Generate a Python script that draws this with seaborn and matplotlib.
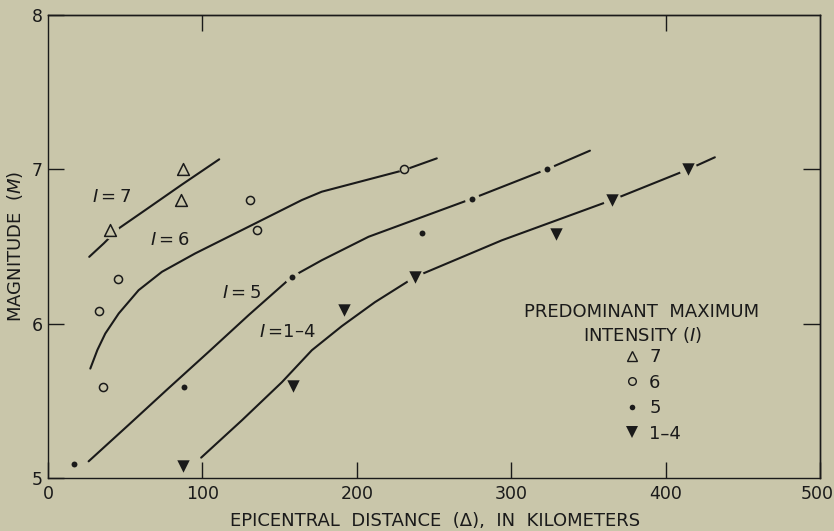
import matplotlib
matplotlib.use("Agg")
import matplotlib.pyplot as plt
from matplotlib.lines import Line2D
from matplotlib.transforms import ScaledTranslation
import seaborn as sns

# ---------------- data ----------------
# Observed points, grouped by predominant maximum intensity
i7_dist = [87.2, 86.1, 40.3]
i7_mag = [7.00, 6.80, 6.61]

i6_dist = [131.0, 135.5, 45.3, 33.2, 35.4, 230.6]
i6_mag = [6.80, 6.61, 6.29, 6.08, 5.59, 7.00]

i5_dist = [16.6, 87.8, 157.9, 242.1, 274.4, 323.0]
i5_mag = [5.09, 5.59, 6.30, 6.59, 6.81, 7.00]

i14_dist = [87.4, 159.0, 191.4, 237.7, 329.0, 365.0, 414.7]
i14_mag = [5.08, 5.595, 6.088, 6.30, 6.58, 6.80, 7.00]

# Fitted curves (hand-drawn in the original)
c7_dist = [26.7, 36.1, 45.8, 63.0, 86.7, 110.9]
c7_mag = [6.433, 6.520, 6.617, 6.736, 6.901, 7.065]

c6_dist = [27.4, 32.0, 37.1, 45.8, 58.7, 73.8, 95.3, 129.9, 164.4, 177.3, 230.6, 251.8]
c6_mag = [5.709, 5.830, 5.936, 6.066, 6.217, 6.336, 6.455, 6.628, 6.801, 6.855, 6.995, 7.071]

c5_dist = [26.3, 52.2, 78.1, 104.0, 129.9, 157.9, 177.3, 207.6, 274.4, 323.0, 351.0]
c5_mag = [5.108, 5.344, 5.582, 5.817, 6.055, 6.303, 6.411, 6.563, 6.809, 7.000, 7.121]

c14_dist = [99.2, 125.6, 151.5, 170.9, 190.3, 211.7, 237.7, 293.9, 365.0, 414.7, 431.9]
c14_mag = [5.132, 5.374, 5.621, 5.828, 5.984, 6.139, 6.303, 6.540, 6.800, 7.000, 7.078]

curve_labels = ["$\\mathit{I}$\u2009=\u20097", "$\\mathit{I}$\u2009=\u20096",
                "$\\mathit{I}$\u2009=\u20095", "$\\mathit{I}$\u2009=1\u20134"]
curve_label_x = [41.4, 79.0, 125.6, 154.9]
curve_label_y = [6.82, 6.54, 6.20, 5.943]

legend_labels = ["7", "6", "5", "1\u20134"]
x_ticks = [0, 100, 200, 300, 400, 500]
y_ticks = [5, 6, 7, 8]

# ---------------- style ----------------
BG = "#c9c6aa"
INK = "#1a1a1a"
FS = 13

sns.set_theme(style="ticks")
plt.rcParams["font.family"] = ["DejaVu Sans"]
plt.rcParams["mathtext.fontset"] = "dejavusans"
plt.rcParams["axes.edgecolor"] = INK
plt.rcParams["text.color"] = INK
plt.rcParams["axes.labelcolor"] = INK
plt.rcParams["xtick.color"] = INK
plt.rcParams["ytick.color"] = INK

fig = plt.figure(figsize=(8.34, 5.31), dpi=100, facecolor=BG)
ax = fig.add_axes([48 / 834, 1 - 478 / 531, 772 / 834, 463 / 531])
ax.set_facecolor(BG)

LW = 1.5
for xs, ys in [(c7_dist, c7_mag), (c6_dist, c6_mag), (c5_dist, c5_mag), (c14_dist, c14_mag)]:
    sns.lineplot(x=xs, y=ys, sort=False, estimator=None, color=INK,
                 linewidth=LW, ax=ax, zorder=2)

# halos (gaps in lines around symbols) then the symbols
series = [
    (i7_dist, i7_mag, "^", 72, BG, 1.1, 160),
    (i6_dist, i6_mag, "o", 34, BG, 1.1, 55),
    (i5_dist, i5_mag, "o", 18, INK, 0.0, 115),
    (i14_dist, i14_mag, "v", 80, INK, 0.0, 165),
]
for xs, ys, mk, s, fc, lw, halo in series:
    sns.scatterplot(x=xs, y=ys, marker="o", s=halo, color=BG, linewidth=0,
                    ax=ax, zorder=3)
    sns.scatterplot(x=xs, y=ys, marker=mk, s=s, color=fc, edgecolor=INK,
                    linewidth=lw, ax=ax, zorder=4)

for lab, lx, ly in zip(curve_labels, curve_label_x, curve_label_y):
    ax.text(lx, ly, lab, ha="center", va="center", fontsize=FS, zorder=5)

ax.set_xlim(0, 500)
ax.set_ylim(5, 8)
ax.set_xticks(x_ticks)
ax.set_yticks(y_ticks)
ax.set_xticklabels([str(t) for t in x_ticks])
ax.set_yticklabels([str(t) for t in y_ticks])
ax.tick_params(axis="both", direction="in", length=11.5, width=1.0,
               labelsize=12.5, colors=INK)
ax.tick_params(axis="x", pad=5)
ax.tick_params(axis="y", pad=4)
for sp in ax.spines.values():
    sp.set_visible(True)
    sp.set_linewidth(1.0)
    sp.set_color(INK)
# keep the last x tick label inside the picture
last = ax.get_xticklabels()[-1]
last.set_transform(last.get_transform() + ScaledTranslation(-3 / 100, 0, fig.dpi_scale_trans))

top = ax.secondary_xaxis("top")
top.set_xticks([100, 400])
top.tick_params(direction="in", length=11.5, width=1.0, labeltop=False, colors=INK)
top.spines["top"].set_linewidth(1.0)
right = ax.secondary_yaxis("right")
right.set_yticks([6, 7])
right.tick_params(direction="in", length=12.5, width=1.0, labelright=False, colors=INK)
right.spines["right"].set_linewidth(1.0)

ax.set_xlabel("EPICENTRAL  DISTANCE  (\u0394),  IN  KILOMETERS", fontsize=FS, va="center")
ax.xaxis.set_label_coords(0.502, -0.093)
ax.set_ylabel("MAGNITUDE  ($\\mathit{M}$)", fontsize=FS, va="center")
ax.yaxis.set_label_coords(-0.043, 0.5)

# legend
fig.text(642 / 834, 1 - 324 / 531, "PREDOMINANT  MAXIMUM\nINTENSITY ($\\mathit{I}$)",
         ha="center", va="center", multialignment="center", fontsize=FS,
         linespacing=1.2)
handles = [
    Line2D([], [], ls="none", marker="^", ms=7.5, mfc=BG, mec=INK, mew=1.0),
    Line2D([], [], ls="none", marker="o", ms=5.5, mfc=BG, mec=INK, mew=1.0),
    Line2D([], [], ls="none", marker="o", ms=4.0, mfc=INK, mec=INK, mew=0),
    Line2D([], [], ls="none", marker="v", ms=8.0, mfc=INK, mec=INK, mew=0),
]
fig.legend(handles, legend_labels, loc="upper left",
           bbox_to_anchor=(623 / 834, 1 - 348 / 531), frameon=False,
           fontsize=FS, handlelength=1.0, handletextpad=0.45,
           labelspacing=0.42, borderpad=0, borderaxespad=0)

fig.savefig("out.png", dpi=100, facecolor=BG)
